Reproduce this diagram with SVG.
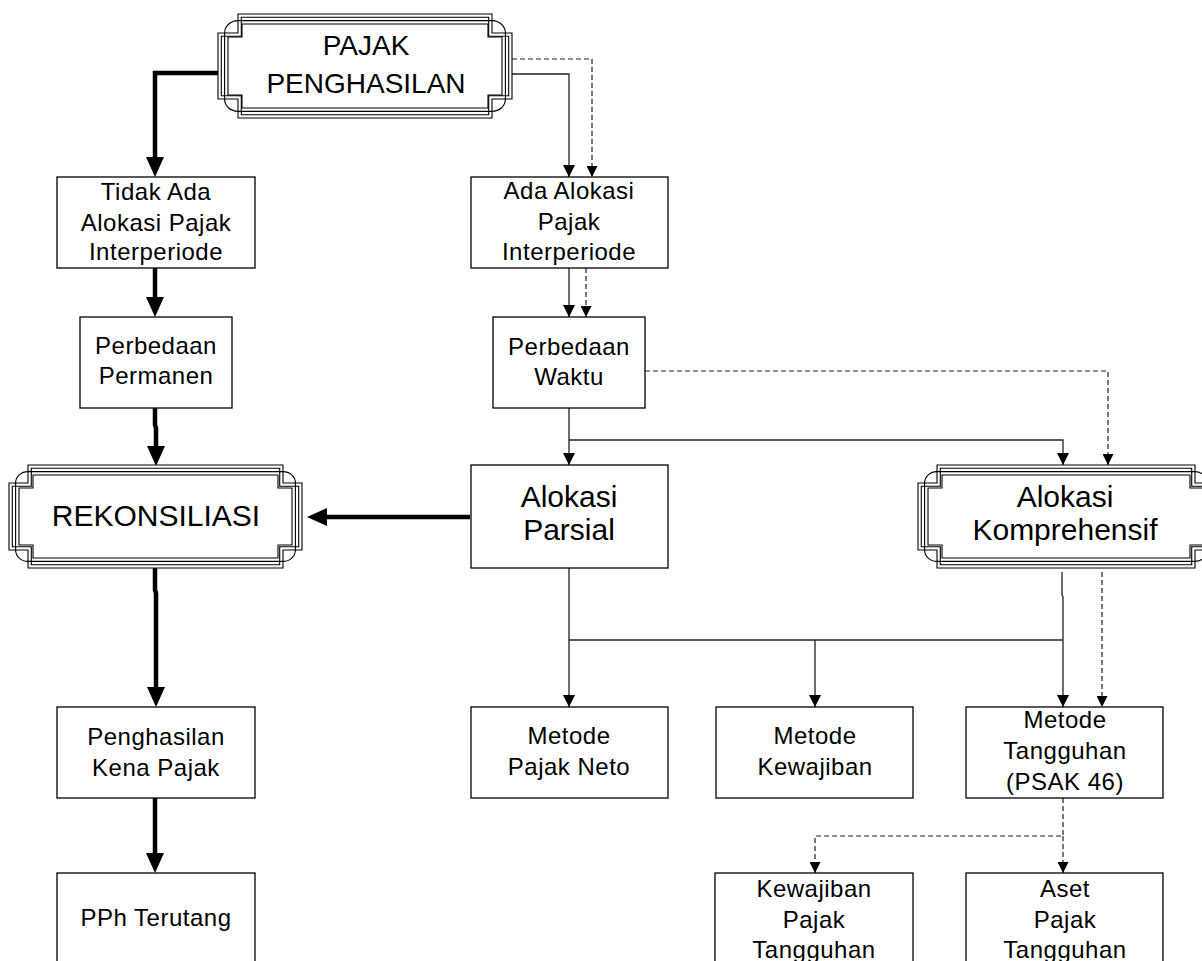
<svg xmlns="http://www.w3.org/2000/svg" width="1202" height="961" viewBox="0 0 1202 961">
<style>
.box{fill:#fff;stroke:#000;stroke-width:1.3}
.fr{fill:none;stroke:#000;stroke-width:1.1}
.fr0{fill:#fff;stroke:#000;stroke-width:1.1}
.t{font-family:"Liberation Sans",Arial,sans-serif;font-size:24px;letter-spacing:0.5px;text-anchor:middle;fill:#000}
.tb{font-family:"Liberation Sans",Arial,sans-serif;font-size:30px;text-anchor:middle;fill:#000}
.thick{fill:none;stroke:#000;stroke-width:4.5}
.thin{fill:none;stroke:#222;stroke-width:1.3}
.dash{fill:none;stroke:#222;stroke-width:1.2;stroke-dasharray:5 3}
</style>
<defs>
<marker id="ah" viewBox="0 0 20 18" refX="0" refY="9" markerWidth="20" markerHeight="18" markerUnits="userSpaceOnUse" orient="auto"><path d="M0,0 L20,9 L0,18 Z" fill="#000"/></marker>
<marker id="as" viewBox="0 0 12 12" refX="12" refY="6" markerWidth="12" markerHeight="12" markerUnits="userSpaceOnUse" orient="auto"><path d="M0,0 L12,6 L0,12 Z" fill="#000"/></marker>
<marker id="ad" viewBox="0 0 11 11" refX="11" refY="5.5" markerWidth="11" markerHeight="11" markerUnits="userSpaceOnUse" orient="auto"><path d="M0,0 L11,5.5 L0,11 Z" fill="#000"/></marker>
</defs>

<g id="connectors">
<path class="thick" d="M218,73 H155 V157" marker-end="url(#ah)"/>
<path class="thick" d="M155,268 V297" marker-end="url(#ah)"/>
<path class="thick" d="M155,408 V425 L156,428 V446" marker-end="url(#ah)"/>
<path class="thick" d="M155,568 V590 L156,593 V687" marker-end="url(#ah)"/>
<path class="thick" d="M155,798 V853" marker-end="url(#ah)"/>
<path class="thick" d="M470,517 H327" marker-end="url(#ah)"/>
<path class="thin" d="M512,74 H569 V177" marker-end="url(#as)"/>
<path class="thin" d="M569,268 V317" marker-end="url(#as)"/>
<path class="thin" d="M569,408 V465" marker-end="url(#as)"/>
<path class="thin" d="M569,440 H1063 V465" marker-end="url(#as)"/>
<path class="thin" d="M569,568 V707" marker-end="url(#as)"/>
<path class="thin" d="M569,640 H1063"/>
<path class="thin" d="M815,640 V707" marker-end="url(#as)"/>
<path class="thin" d="M1062,572 V595 L1063,597 V707" marker-end="url(#as)"/>
<path class="dash" d="M512,59 H592 V177" marker-end="url(#ad)"/>
<path class="dash" d="M586,268 V317" marker-end="url(#ad)"/>
<path class="dash" d="M645,371 H1108 V465" marker-end="url(#ad)"/>
<path class="dash" d="M1102,572 V707" marker-end="url(#ad)"/>
<path class="dash" d="M1063,798 V836 H815 V873" marker-end="url(#ad)"/>
<path class="dash" d="M1063,836 V873" marker-end="url(#ad)"/>
</g>

<g id="pajak-penghasilan">
<path class="fr0" d="M238,14 H492 V33 H512 V99 H492 V118 H238 V99 H218 V33 H238 Z"/>
<path class="fr" d="M241.3,17.3 H488.7 V36.3 H508.7 V95.7 H488.7 V114.7 H241.3 V95.7 H221.3 V36.3 H241.3 Z"/>
<path class="fr" d="M238,20.6 H492 A13.4 12.4 0 0 1 505.4,33 V99 A13.4 12.4 0 0 1 492,111.4 H238 A13.4 12.4 0 0 1 224.6,99 V33 A13.4 12.4 0 0 1 238,20.6 Z"/>
<path class="fr" d="M242,24 H488 V37 H502 V95 H488 V108 H242 V95 H228 V37 H242 Z"/>
<text class="tb" style="font-size:28px" x="366" y="55">PAJAK</text>
<text class="tb" style="font-size:28px" x="366" y="93">PENGHASILAN</text>
</g>

<g id="tidak-ada">
<rect class="box" x="57" y="177" width="198" height="91"/>
<text class="t" x="156" y="200">Tidak Ada</text>
<text class="t" x="156" y="231">Alokasi Pajak</text>
<text class="t" x="156" y="260">Interperiode</text>
</g>

<g id="ada-alokasi">
<rect class="box" x="471" y="177" width="197" height="91"/>
<text class="t" x="569" y="199">Ada Alokasi</text>
<text class="t" x="569" y="230">Pajak</text>
<text class="t" x="569" y="260">Interperiode</text>
</g>

<g id="perbedaan-permanen">
<rect class="box" x="80" y="317" width="152" height="91"/>
<text class="t" x="156" y="354">Perbedaan</text>
<text class="t" x="156" y="384">Permanen</text>
</g>

<g id="perbedaan-waktu">
<rect class="box" x="493" y="317" width="152" height="91"/>
<text class="t" x="569" y="355">Perbedaan</text>
<text class="t" x="569" y="385">Waktu</text>
</g>

<g id="rekonsiliasi">
<path class="fr0" d="M28,465 H283 V483 H302 V550 H283 V568 H28 V550 H9 V483 H28 Z"/>
<path class="fr" d="M31.3,468.3 H279.7 V486.3 H298.7 V546.7 H279.7 V564.7 H31.3 V546.7 H12.3 V486.3 H31.3 Z"/>
<path class="fr" d="M28,471.6 H283 A12.4 11.4 0 0 1 295.4,483 V550 A12.4 11.4 0 0 1 283,561.4 H28 A12.4 11.4 0 0 1 15.6,550 V483 A12.4 11.4 0 0 1 28,471.6 Z"/>
<path class="fr" d="M33,475 H278 V488 H292 V545 H278 V558 H33 V545 H19 V488 H33 Z"/>
<text class="tb" x="156" y="526">REKONSILIASI</text>
</g>

<g id="alokasi-parsial">
<rect class="box" x="471" y="465" width="197" height="103"/>
<text class="tb" x="569" y="507">Alokasi</text>
<text class="tb" x="569" y="540">Parsial</text>
</g>

<g id="alokasi-komprehensif">
<path class="fr0" d="M937,465 H1195 V483 H1214 V550 H1195 V568 H937 V550 H918 V483 H937 Z"/>
<path class="fr" d="M940.3,468.3 H1191.7 V486.3 H1210.7 V546.7 H1191.7 V564.7 H940.3 V546.7 H921.3 V486.3 H940.3 Z"/>
<path class="fr" d="M937,471.6 H1195 A12.4 11.4 0 0 1 1207.4,483 V550 A12.4 11.4 0 0 1 1195,561.4 H937 A12.4 11.4 0 0 1 924.6,550 V483 A12.4 11.4 0 0 1 937,471.6 Z"/>
<path class="fr" d="M942,475 H1190 V488 H1204 V545 H1190 V558 H942 V545 H928 V488 H942 Z"/>
<text class="tb" x="1065" y="507">Alokasi</text>
<text class="tb" x="1065" y="540">Komprehensif</text>
</g>

<g id="penghasilan-kena-pajak">
<rect class="box" x="57" y="707" width="198" height="91"/>
<text class="t" x="156" y="745">Penghasilan</text>
<text class="t" x="156" y="776">Kena Pajak</text>
</g>

<g id="metode-pajak-neto">
<rect class="box" x="471" y="707" width="197" height="91"/>
<text class="t" x="569" y="744">Metode</text>
<text class="t" x="569" y="775">Pajak Neto</text>
</g>

<g id="metode-kewajiban">
<rect class="box" x="716" y="707" width="197" height="91"/>
<text class="t" x="815" y="744">Metode</text>
<text class="t" x="815" y="775">Kewajiban</text>
</g>

<g id="metode-tangguhan">
<rect class="box" x="966" y="707" width="197" height="91"/>
<text class="t" x="1065" y="728">Metode</text>
<text class="t" x="1065" y="759">Tangguhan</text>
<text class="t" x="1065" y="790">(PSAK 46)</text>
</g>

<g id="pph-terutang">
<rect class="box" x="57" y="873" width="198" height="110"/>
<text class="t" x="156" y="926">PPh Terutang</text>
</g>

<g id="kewajiban-pajak-tangguhan">
<rect class="box" x="715" y="873" width="198" height="110"/>
<text class="t" x="814" y="897">Kewajiban</text>
<text class="t" x="814" y="928">Pajak</text>
<text class="t" x="814" y="958">Tangguhan</text>
</g>

<g id="aset-pajak-tangguhan">
<rect class="box" x="966" y="873" width="197" height="110"/>
<text class="t" x="1065" y="897">Aset</text>
<text class="t" x="1065" y="928">Pajak</text>
<text class="t" x="1065" y="958">Tangguhan</text>
</g>
</svg>
